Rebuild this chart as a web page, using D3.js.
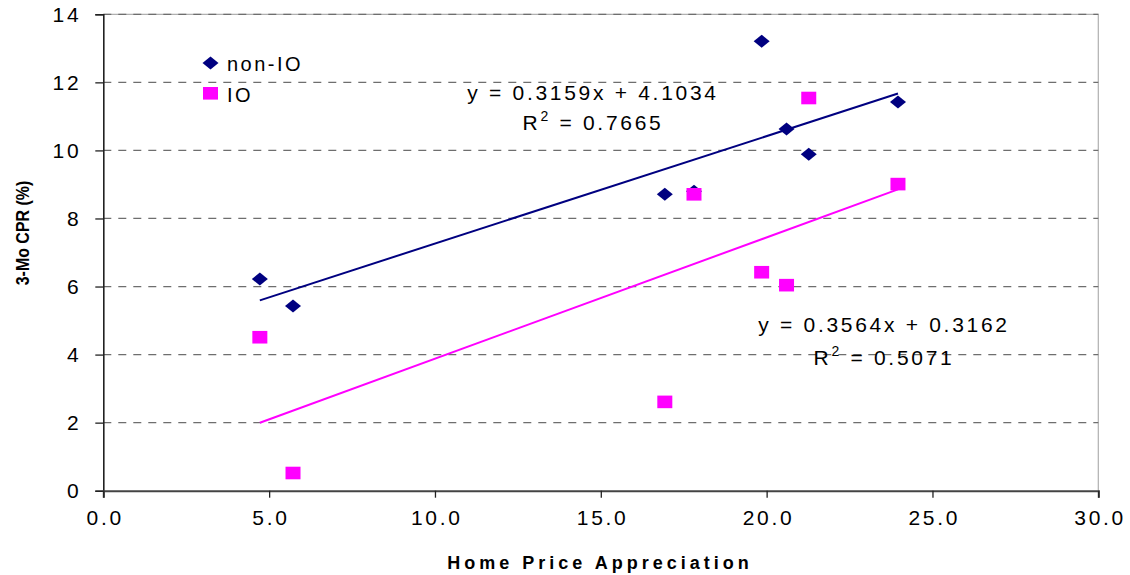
<!DOCTYPE html>
<html>
<head>
<meta charset="utf-8">
<script src="https://cdn.jsdelivr.net/npm/d3@7"></script>
<style>
  html, body { margin: 0; padding: 0; background: #fff; }
  svg { display: block; font-family: "Liberation Sans", Arial, sans-serif; }
</style>
</head>
<body>
<svg id="chart" width="1130" height="575"></svg>
<script>
// ---- data ----
const hpa = [4.72, 5.72, 16.93, 17.81, 19.85, 20.6, 21.27, 23.96];
const nonIO = [6.22, 5.43, 8.71, 8.8, 13.21, 10.63, 9.89, 11.42];
const io = [4.51, 0.52, 2.61, 8.71, 6.42, 6.04, 11.54, 9.01];
const seriesNames = ["non-IO", "IO"];
const trendNonIO = { slope: 0.3159, intercept: 4.1034, r2: "0.7665" };
const trendIO = { slope: 0.3564, intercept: 0.3162, r2: "0.5071" };
const xTicks = [0, 5, 10, 15, 20, 25, 30];
const yTicks = [0, 2, 4, 6, 8, 10, 12, 14];
const xTitle = "Home Price Appreciation";
const yTitle = "3-Mo CPR (%)";

const NAVY = "#000080", MAG = "#FF00FF";

const svg = d3.select("#chart");
const x = d3.scaleLinear().domain([0, 30]).range([103.3, 1098.3]);
const y = d3.scaleLinear().domain([0, 14]).range([490.7, 14.3]);

// plot border (top/right)
svg.append("path")
  .attr("d", `M${x(0)},${y(14)}H${x(30)}V${y(0)}`)
  .attr("fill", "none").attr("stroke", "#b0b0b0").attr("stroke-width", 1.2);

// gridlines
svg.append("g").selectAll("line").data(yTicks.filter(d => d > 0)).join("line")
  .attr("x1", x(0)).attr("x2", x(30))
  .attr("y1", d => y(d)).attr("y2", d => y(d))
  .attr("stroke", "#6e6e6e").attr("stroke-width", 1.3)
  .attr("stroke-dasharray", "8,7");

// axes
const tickFont = g => g.selectAll("text")
  .attr("font-size", 21).attr("fill", "#000")
  .attr("font-family", "'Liberation Sans', Arial, sans-serif")
  .style("letter-spacing", "2.7px");

const yAxis = svg.append("g").attr("transform", `translate(${x(0)},0)`)
  .call(d3.axisLeft(y).tickValues(yTicks).tickFormat(d3.format("d")).tickSize(8).tickPadding(14));
yAxis.select(".domain").attr("stroke", "#222").attr("stroke-width", 1.6);
yAxis.selectAll(".tick line").attr("stroke", "#222").attr("stroke-width", 1.3);
yAxis.call(tickFont);

const xAxis = svg.append("g").attr("transform", `translate(0,${y(0)})`)
  .call(d3.axisBottom(x).tickValues(xTicks).tickFormat(d3.format(".1f")).tickSize(7).tickPadding(12));
xAxis.select(".domain").attr("stroke", "#444").attr("stroke-width", 2);
xAxis.selectAll(".tick line").attr("stroke", "#222").attr("stroke-width", 1.3);
xAxis.call(tickFont);
xAxis.selectAll("text").attr("dx", "1.35px");

// axis titles
svg.append("text").attr("x", 600).attr("y", 569)
  .attr("text-anchor", "middle").attr("font-weight", "bold").attr("font-size", 18)
  .style("letter-spacing", "4px").text(xTitle);
svg.append("text").attr("transform", "translate(29,233) rotate(-90) scale(0.84,1)")
  .attr("text-anchor", "middle").attr("font-weight", "bold").attr("font-size", 19)
  .text(yTitle);

// trendlines
const xmin = d3.min(hpa), xmax = d3.max(hpa);
function trend(t, color) {
  svg.append("line")
    .attr("x1", x(xmin)).attr("y1", y(t.slope * xmin + t.intercept))
    .attr("x2", x(xmax)).attr("y2", y(t.slope * xmax + t.intercept))
    .attr("stroke", color).attr("stroke-width", 2);
}
trend(trendNonIO, NAVY);
trend(trendIO, MAG);

// markers
const diamond = (cx, cy) => `M${cx - 8},${cy}L${cx},${cy - 6.5}L${cx + 8},${cy}L${cx},${cy + 6.5}Z`;
svg.append("g").selectAll("path").data(hpa.map((d, i) => [d, nonIO[i]])).join("path")
  .attr("d", d => diamond(x(d[0]), y(d[1]))).attr("fill", NAVY);
svg.append("g").selectAll("rect").data(hpa.map((d, i) => [d, io[i]])).join("rect")
  .attr("x", d => x(d[0]) - 7.5).attr("y", d => y(d[1]) - 6.3)
  .attr("width", 15).attr("height", 12.6).attr("fill", MAG);

// legend
svg.append("path").attr("d", diamond(210.5, 63)).attr("fill", NAVY);
svg.append("rect").attr("x", 203).attr("y", 87).attr("width", 15).attr("height", 12.6).attr("fill", MAG);
svg.append("text").attr("x", 227).attr("y", 70.5).attr("font-size", 20)
  .style("letter-spacing", "2.5px").text(seriesNames[0]);
svg.append("text").attr("x", 227).attr("y", 101.5).attr("font-size", 20)
  .style("letter-spacing", "2.5px").text(seriesNames[1]);

// equation labels
function eqLabel(t, cx, cy1, cy2) {
  const eq = `y = ${t.slope.toFixed(4)}x + ${t.intercept.toFixed(4)}`;
  svg.append("text").attr("x", cx).attr("y", cy1 + 7.5).attr("text-anchor", "middle")
    .attr("font-size", 21).style("letter-spacing", "2.7px").text(eq);
  const r = svg.append("text").attr("x", cx).attr("y", cy2 + 7.5).attr("text-anchor", "middle")
    .attr("font-size", 21).style("letter-spacing", "2.7px");
  r.append("tspan").text("R");
  r.append("tspan").attr("font-size", 14).attr("dy", -9).text("2");
  r.append("tspan").attr("dy", 9).text(" = " + t.r2);
}
eqLabel(trendNonIO, 593, 92, 122);
eqLabel(trendIO, 884, 324, 357);
</script>
</body>
</html>
